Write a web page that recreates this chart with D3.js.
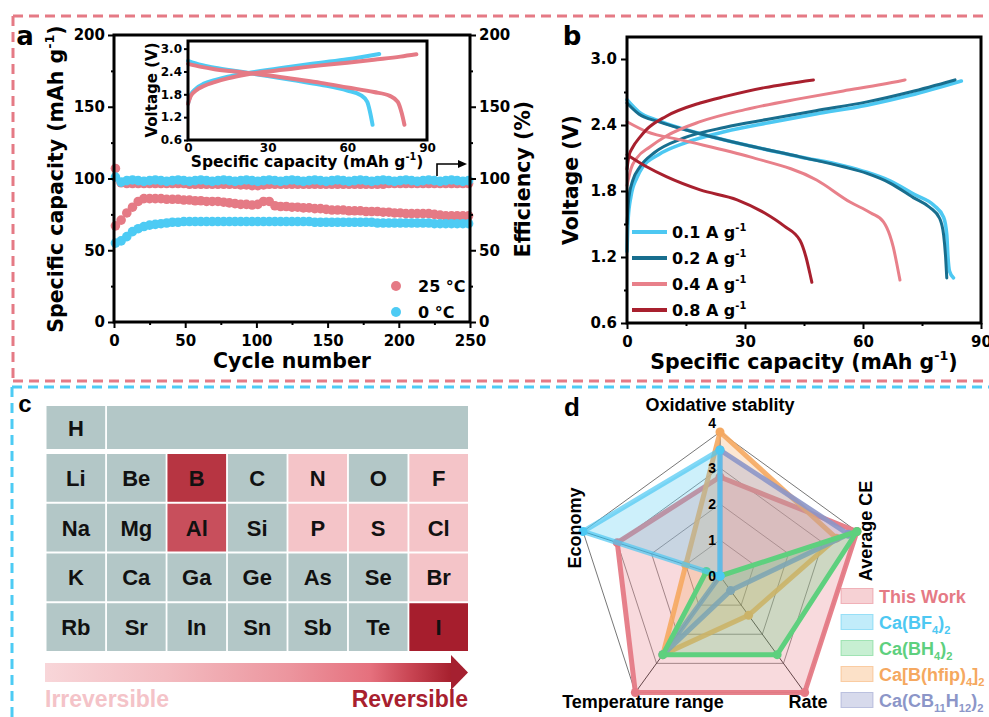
<!DOCTYPE html>
<html><head><meta charset="utf-8">
<script src="https://cdn.jsdelivr.net/npm/d3@7"></script>
<style>
body{margin:0;background:#fff;}
svg{display:block;}
</style></head><body>
<svg id="fig" width="989" height="717"></svg>
<script>
// ================= DATA =================
// Panel a: cycling (sampled every 4 cycles starting at cycle 1)
const cycleIndex = d3.range(1, 251, 4);
const capacity25 = [67,71,76,80,84,86,86,86,86,85.5,
  85.5,85.5,85,85,84.5,84.5,84,84,84,83.5,
  83,82.5,82,82,81.5,82,84,84,81,80.5,
  80.5,80,80,79.5,79.5,79,79,78.5,78,78,
  78,77.5,77.5,77.5,77,77,77,76.5,76.5,76,
  76,75.5,75.5,75.5,75.5,75.5,75,74.5,74,74,
  74,74,74];
const capacity0 = [55,56.5,59.5,63,65,66.5,67.5,68,68.5,69,
  69.5,69.5,70,70,70,70,70,70,70,70,
  70,70,70,70,70,70,70,70,70,70,
  70,70,70,70,70,69.5,69.5,69.5,69.5,69.5,
  69.5,69.5,69.5,69.5,69.5,69.5,69,69,69,69,
  69,69,69,69,69,69,68.5,68.5,68.5,68.5,
  68.5,68.5,68.5];
const efficiency25 = [107,97,96.5,96.5,96.5,96.5,96.5,96.5,96.5,96.5,
  96.5,96.5,96.5,96,96,96,96,96,96,96,
  96,96,95.5,95.5,95,95,95.5,96,96,96,
  96,96,96,96,96,96,96,96,96,96,
  96,96,96,96,96,96,96,96,96.5,96.5,
  96.5,96.5,96.5,96.5,96.5,96.5,96.5,96.5,96.5,96.5,
  96.5,96.5,96.5];
const efficiency0 = [101,97.5,98.5,99,98.5,98,98.5,99,98.5,98,
  98.5,99,98.5,98,98.5,99,98.5,98,98.5,99,
  98.5,98,98.5,99,98.5,98,98.5,99,98.5,98,
  98.5,99,98.5,98,98.5,99,98.5,98,98.5,99,
  98.5,98,98.5,99,98.5,98,98.5,99,98.5,98,
  98.5,99,98.5,98,98.5,99,98.5,98,98.5,99,
  98.5,98,98.5];
const cycleTicks = [0,50,100,150,200,250];
const cycleMinor = [25,75,125,175,225];
const capTicks = [0,50,100,150,200];
const capMinor = [25,75,125,175];
const tempLabels = ["25 °C","0 °C"];

// Panel a inset: [capacity, voltage]
const inset25Charge = [[0,1.55],[1,1.75],[3,1.9],[6,2.02],[10,2.12],[15,2.22],[22,2.32],[30,2.4],[40,2.48],[50,2.56],[60,2.63],[70,2.71],[80,2.79],[86,2.85]];
const inset25Discharge = [[0,2.6],[5,2.52],[10,2.46],[20,2.38],[30,2.3],[40,2.2],[50,2.1],[60,1.98],[70,1.86],[76,1.76],[79,1.6],[80.5,1.3],[81.5,1.0]];
const inset0Charge = [[0,1.55],[1,1.78],[3,1.95],[6,2.08],[10,2.17],[15,2.26],[22,2.35],[30,2.44],[40,2.54],[50,2.63],[60,2.72],[72,2.86]];
const inset0Discharge = [[0,2.68],[5,2.57],[10,2.5],[20,2.39],[30,2.28],[40,2.17],[50,2.05],[60,1.9],[65,1.78],[67.5,1.6],[68.5,1.35],[69.5,1.0]];
const insetXTicks = [0,30,60,90];
const insetYTicks = [0.6,1.2,1.8,2.4,3.0];

// Panel b: rate curves [capacity, voltage]
const rateLabels = ["0.1","0.2","0.4","0.8"];
const rateCharge = [
  [[0,1.25],[0.3,1.55],[1,1.75],[2.5,1.92],[4,2.02],[8,2.13],[15,2.24],[25,2.34],[36,2.42],[48,2.5],[61,2.58],[72,2.67],[85,2.8]],
  [[0,1.5],[0.5,1.75],[1.5,1.9],[3.3,2.02],[7,2.15],[14.3,2.28],[25,2.38],[35.5,2.45],[48,2.53],[61,2.61],[72,2.7],[83.4,2.81]],
  [[0,1.85],[1,2.0],[2.5,2.1],[5.8,2.2],[10,2.3],[18.6,2.43],[30,2.54],[44,2.64],[55,2.71],[65,2.77],[70.7,2.81]],
  [[0,2.0],[0.5,2.12],[1.5,2.2],[3.3,2.29],[5,2.36],[10,2.48],[18.6,2.6],[25,2.66],[35,2.74],[47.4,2.81]]
];
const rateDischarge = [
  [[0,2.63],[3,2.52],[8,2.44],[18.6,2.32],[30,2.22],[44,2.11],[55,2.03],[61,1.97],[67,1.89],[73,1.77],[78,1.67],[80.5,1.56],[81.3,1.4],[81.6,1.2],[82,1.07],[83,1.01]],
  [[0,2.6],[3,2.5],[8,2.43],[18.6,2.32],[30,2.22],[44,2.11],[55,2.02],[61,1.96],[67,1.87],[72.8,1.74],[77,1.65],[79.5,1.55],[80.5,1.4],[81,1.2],[81.3,1.01]],
  [[0,2.43],[5,2.34],[14.3,2.26],[31.3,2.11],[48.2,1.9],[56.7,1.7],[62,1.6],[65.2,1.52],[66.8,1.4],[67.7,1.29],[68.8,1.1],[69.4,0.99]],
  [[0,2.13],[5,2.02],[10,1.93],[18.6,1.81],[28,1.72],[35,1.6],[40,1.48],[44,1.35],[45.5,1.2],[46.5,1.05],[47,0.97]]
];
const bXTicks = [0,30,60,90];
const bXMinor = [15,45,75];
const bYTicks = [0.6,1.2,1.8,2.4,3.0];
const bYMinor = [0.9,1.5,2.1,2.7];

// Panel c: periodic table
const topRow = ["H"];
const elementRows = [
  ["Li","Be","B","C","N","O","F"],
  ["Na","Mg","Al","Si","P","S","Cl"],
  ["K","Ca","Ga","Ge","As","Se","Br"],
  ["Rb","Sr","In","Sn","Sb","Te","I"]
];
const reversibilityLevel = {B:3, Al:2, I:4, N:1, F:1, P:1, S:1, Cl:1, Br:1};

// Panel d: radar
const radarAxes = ["Oxidative stablity","Average CE","Rate","Temperature range","Economy"];
const radarTicks = [0,1,2,3,4];
const radarNames = ["This Work","Ca(BF4)2","Ca(BH4)2","Ca[B(hfip)4]2","Ca(CB11H12)2"];
const thisWork   = [2.75, 4, 4, 4, 3];
const caBF4      = [3.5, 0, 0, 0, 4];
const caBH4      = [0, 4, 2.7, 2.7, 0.4];
const caBhfip    = [4, 3.4, 1.35, 2.7, 1.0];
const caCB11H12  = [3.5, 3.75, 0.5, 2.7, 0];

// ================= STYLE =================
const FA = '"DejaVu Sans", sans-serif';
const FB = '"Liberation Sans", Arial, sans-serif';
const PINK = '#E57A85', SKY = '#4DCBF4';
const rateColors = ['#4DC8F2','#186E8E','#E8808A','#A8202E'];
const levelColors = ['#B3C7C7','#F4C4C8','#C84F5C','#B73542','#A61E2D'];
const radarColors = ['#E57A85','#4DC8F2','#5ED07E','#F5A860','#8C96C8'];
const radarStrokeOpacity = [0.95,0.7,1,0.9,0.9];
const radarLabelParts = [
  [["This Work",0]],
  [["Ca(BF",0],["4",1],[")",0],["2",1]],
  [["Ca(BH",0],["4",1],[")",0],["2",1]],
  [["Ca[B(hfip)",0],["4",1],["]",0],["2",1]],
  [["Ca(CB",0],["11",1],["H",0],["12",1],[")",0],["2",1]]
];

const svg = d3.select("#fig");
svg.append("rect").attr("width",989).attr("height",717).attr("fill","#fff");

function dashed(x1,y1,x2,y2,c){
  svg.append("line").attr("x1",x1).attr("y1",y1).attr("x2",x2).attr("y2",y2)
    .attr("stroke",c).attr("stroke-width",3).attr("stroke-dasharray","10,6");
}
dashed(13,16,989,16,PINK); dashed(13,16,13,381,PINK); dashed(13,381,989,381,PINK);
dashed(12,387,989,387,SKY); dashed(12,387,12,717,SKY);

// rich text helper: parts = [[text, mode]] mode 0 normal, 1 sub, 2 sup
function rich(g, parts, fs){
  let shift = 0;
  parts.forEach(([t,m])=>{
    const target = m===1 ? fs*0.3 : m===2 ? -fs*0.42 : 0;
    g.append("tspan").attr("dy", target-shift).attr("font-size", m? fs*0.62 : fs).text(t);
    shift = target;
  });
}
function label(x,y,parts,fs,opts={}){
  const t = svg.append("text").attr("font-family",opts.font||FA).attr("font-weight","bold")
    .attr("font-size",fs).attr("fill",opts.fill||"#000").attr("text-anchor",opts.anchor||"middle");
  if(opts.rotate) t.attr("transform",`translate(${x},${y}) rotate(${opts.rotate})`);
  else t.attr("x",x).attr("y",y);
  rich(t, parts, fs);
  return t;
}
function styleAxis(g, fs, font){
  g.select(".domain").remove();
  g.selectAll(".tick line").attr("stroke","#000").attr("stroke-width",2);
  g.selectAll(".tick text").attr("font-family",font||FA).attr("font-weight","bold").attr("font-size",fs).attr("fill","#000");
}

// ================= PANEL A =================
const ax = d3.scaleLinear().domain([0,250]).range([114,470]);
const ay = d3.scaleLinear().domain([0,200]).range([322,35]);
const ga = svg.append("g");
function scatter(vals,color){
  ga.append("g").selectAll("circle").data(vals.map((v,i)=>[cycleIndex[i],v])).join("circle")
    .attr("cx",d=>ax(d[0])).attr("cy",d=>ay(d[1])).attr("r",4.8).attr("fill",color);
}
scatter(capacity25,PINK); scatter(capacity0,SKY);
scatter(efficiency25,PINK); scatter(efficiency0,SKY);
styleAxis(ga.append("g").attr("transform","translate(114,0)").call(d3.axisLeft(ay).tickValues(capTicks).tickSize(6).tickPadding(3)),15);
styleAxis(ga.append("g").attr("transform","translate(114,0)").call(d3.axisLeft(ay).tickValues(capMinor).tickSize(3).tickFormat("")),15);
styleAxis(ga.append("g").attr("transform","translate(470,0)").call(d3.axisRight(ay).tickValues(capTicks).tickSize(6).tickPadding(3)),15);
styleAxis(ga.append("g").attr("transform","translate(470,0)").call(d3.axisRight(ay).tickValues(capMinor).tickSize(3).tickFormat("")),15);
styleAxis(ga.append("g").attr("transform","translate(0,322)").call(d3.axisBottom(ax).tickValues(cycleTicks).tickSize(6).tickPadding(7)),15);
styleAxis(ga.append("g").attr("transform","translate(0,322)").call(d3.axisBottom(ax).tickValues(cycleMinor).tickSize(3).tickFormat("")),15);
ga.append("rect").attr("x",114).attr("y",35).attr("width",356).attr("height",287).attr("fill","none").attr("stroke","#000").attr("stroke-width",3);
label(292,368,[["Cycle number",0]],20.5);
label(63,179,[["Specific capacity (mAh g",0],["-1",2],[")",0]],20.5,{rotate:-90});
label(530,179,[["Efficiency (%)",0]],20.5,{rotate:-90});
label(25,45,[["a",0]],26);
tempLabels.forEach((t,i)=>{
  const y = 286 + i*26;
  ga.append("circle").attr("cx",396).attr("cy",y).attr("r",5).attr("fill",i?SKY:PINK);
  label(418,y+6,[[t,0]],16,{anchor:"start"});
});
ga.append("path").attr("d","M437,176 V164 H460").attr("fill","none").attr("stroke","#000").attr("stroke-width",1.6);
ga.append("path").attr("d","M458,160 L467,164 L458,168 Z").attr("fill","#000");

// inset
const ix = d3.scaleLinear().domain([0,90]).range([188,427]);
const iy = d3.scaleLinear().domain([0.6,3.2]).range([140,41]);
const gi = svg.append("g");
const iline = d3.line().x(d=>ix(d[0])).y(d=>iy(d[1])).curve(d3.curveMonotoneX);
[[inset0Charge,SKY],[inset0Discharge,SKY],[inset25Charge,PINK],[inset25Discharge,PINK]].forEach(([d,c])=>{
  gi.append("path").attr("d",iline(d)).attr("fill","none").attr("stroke",c).attr("stroke-width",4).attr("stroke-linecap","round");
});
styleAxis(gi.append("g").attr("transform","translate(188,0)").call(d3.axisLeft(iy).tickValues(insetYTicks).tickSize(4).tickPadding(2).tickFormat(d3.format(".1f"))),12);
styleAxis(gi.append("g").attr("transform","translate(0,140)").call(d3.axisBottom(ix).tickValues(insetXTicks).tickSize(0).tickPadding(3)),12);
gi.append("rect").attr("x",188).attr("y",41).attr("width",239).attr("height",99).attr("fill","none").attr("stroke","#000").attr("stroke-width",3);
label(307,167,[["Specific capacity (mAh g",0],["-1",2],[")",0]],15.5);
label(157,90,[["Voltage (V)",0]],15,{rotate:-90});

// ================= PANEL B =================
const bx = d3.scaleLinear().domain([0,90]).range([627,981]);
const by = d3.scaleLinear().domain([0.6,3.2]).range([323,37]);
const gb = svg.append("g");
const bline = d3.line().x(d=>bx(d[0])).y(d=>by(d[1])).curve(d3.curveMonotoneX);
[0,1,2,3].forEach(i=>{
  [rateCharge[i],rateDischarge[i]].forEach(d=>{
    gb.append("path").attr("d",bline(d)).attr("fill","none").attr("stroke",rateColors[i])
      .attr("stroke-width", i===0?3.6:3).attr("stroke-linecap","round");
  });
});
styleAxis(gb.append("g").attr("transform","translate(627,0)").call(d3.axisLeft(by).tickValues(bYTicks).tickSize(6).tickPadding(4).tickFormat(d3.format(".1f"))),15);
styleAxis(gb.append("g").attr("transform","translate(627,0)").call(d3.axisLeft(by).tickValues(bYMinor).tickSize(3).tickFormat("")),15);
styleAxis(gb.append("g").attr("transform","translate(0,323)").call(d3.axisBottom(bx).tickValues(bXTicks).tickSize(6).tickPadding(7)),15);
styleAxis(gb.append("g").attr("transform","translate(0,323)").call(d3.axisBottom(bx).tickValues(bXMinor).tickSize(3).tickFormat("")),15);
gb.append("rect").attr("x",627).attr("y",37).attr("width",354).attr("height",286).attr("fill","none").attr("stroke","#000").attr("stroke-width",3);
label(804,369,[["Specific capacity (mAh g",0],["-1",2],[")",0]],20.5);
label(578,180,[["Voltage (V)",0]],20.5,{rotate:-90});
label(572,45,[["b",0]],26);
rateLabels.forEach((r,i)=>{
  const y = 232 + i*26;
  gb.append("line").attr("x1",632).attr("x2",667).attr("y1",y).attr("y2",y).attr("stroke",rateColors[i]).attr("stroke-width",4);
  label(672,y+6,[[r+" A g",0],["-1",2]],16,{anchor:"start"});
});

// ================= PANEL C =================
const gc = svg.append("g");
const colX = d3.scaleBand().domain(d3.range(7)).range([46.5,468]).paddingInner(0.03);
const rowY = d3.scaleBand().domain(d3.range(4)).range([454,651]).paddingInner(0.04);
gc.append("rect").attr("x",colX(0)).attr("y",406).attr("width",colX.bandwidth()).attr("height",43).attr("fill",levelColors[0]);
gc.append("rect").attr("x",colX(1)).attr("y",406).attr("width",colX(6)+colX.bandwidth()-colX(1)).attr("height",43).attr("fill",levelColors[0]);
gc.append("text").attr("x",colX(0)+colX.bandwidth()/2).attr("y",406+21.5+8).attr("text-anchor","middle")
  .attr("font-family",FB).attr("font-weight","bold").attr("font-size",22).attr("fill","#111").text(topRow[0]);
elementRows.forEach((row,r)=>row.forEach((el,c)=>{
  const lv = reversibilityLevel[el]||0;
  gc.append("rect").attr("x",colX(c)).attr("y",rowY(r)).attr("width",colX.bandwidth()).attr("height",rowY.bandwidth()).attr("fill",levelColors[lv]);
  gc.append("text").attr("x",colX(c)+colX.bandwidth()/2).attr("y",rowY(r)+rowY.bandwidth()/2+8).attr("text-anchor","middle")
    .attr("font-family",FB).attr("font-weight","bold").attr("font-size",22).attr("fill","#111").text(el);
}));
const defs = svg.append("defs");
const grad = defs.append("linearGradient").attr("id","revGrad").attr("x1","0%").attr("x2","100%");
[[0,'#F8D6D9'],[0.3,'#F3BBC0'],[0.6,'#EC959E'],[0.8,'#E5707D'],[0.9,'#C84452'],[1,'#A51F2D']].forEach(([o,c])=>grad.append("stop").attr("offset",o).attr("stop-color",c));
gc.append("rect").attr("x",45).attr("y",663).attr("width",407).attr("height",19).attr("fill","url(#revGrad)");
gc.append("path").attr("d","M451,655 L468,672.5 L451,690 Z").attr("fill","#A52030");
gc.append("text").attr("x",45).attr("y",707).attr("font-family",FB).attr("font-weight","bold").attr("font-size",23).attr("fill","#F4C3C8").text("Irreversible");
gc.append("text").attr("x",468).attr("y",707).attr("text-anchor","end").attr("font-family",FB).attr("font-weight","bold").attr("font-size",23).attr("fill","#A8202E").text("Reversible");
label(25,412,[["c",0]],24,{font:FB});

// ================= PANEL D =================
const gd = svg.append("g");
const rc = {x:720,y:576};
const rr = d3.scaleLinear().domain([0,4]).range([0,144]);
const pt = (i,v)=>[rc.x+rr(v)*Math.sin(i*2*Math.PI/5), rc.y-rr(v)*Math.cos(i*2*Math.PI/5)];
radarTicks.slice(1).forEach(t=>{
  gd.append("path").attr("d",d3.line()(d3.range(5).map(i=>pt(i,t)))+"Z").attr("fill","none")
    .attr("stroke", t===4?"#777":"#8a8a8a").attr("stroke-width",1);
});
d3.range(5).forEach(i=>{
  const p = pt(i,4);
  gd.append("line").attr("x1",rc.x).attr("y1",rc.y).attr("x2",p[0]).attr("y2",p[1]).attr("stroke","#333").attr("stroke-width",1);
});
const radarData = [thisWork,caBF4,caBH4,caBhfip,caCB11H12];
const drawOrder = [0,3,4,2,1];
drawOrder.forEach(k=>{
  const pts = radarData[k].map((v,i)=>pt(i,v));
  gd.append("path").attr("d",d3.line()(pts)+"Z").attr("fill",radarColors[k]).attr("fill-opacity",0.28)
    .attr("stroke",radarColors[k]).attr("stroke-opacity",radarStrokeOpacity[k]).attr("stroke-width",5).attr("stroke-linejoin","round");
  gd.append("g").selectAll("circle").data(pts).join("circle").attr("cx",d=>d[0]).attr("cy",d=>d[1]).attr("r",4.5).attr("fill",radarColors[k]);
});
radarTicks.forEach(t=>{
  gd.append("text").attr("x",716).attr("y", t===4 ? rc.y-rr(t)-4 : rc.y-rr(t)+5).attr("text-anchor","end")
    .attr("font-family",FB).attr("font-weight","bold").attr("font-size",14).text(t);
});
label(720,411,[[radarAxes[0],0]],18,{font:FB});
label(872,531,[[radarAxes[1],0]],18,{font:FB,rotate:-90});
label(808,708,[[radarAxes[2],0]],18,{font:FB});
label(643,708,[[radarAxes[3],0]],18,{font:FB});
label(581,528,[[radarAxes[4],0]],18,{font:FB,rotate:-90});
label(572,416,[["d",0]],26,{font:FB});
radarNames.forEach((n,k)=>{
  const y = 596 + k*26;
  gd.append("rect").attr("x",841).attr("y",y-7.5).attr("width",32).attr("height",15)
    .attr("fill",radarColors[k]).attr("fill-opacity",0.35).attr("stroke",radarColors[k]).attr("stroke-opacity",0.5);
  label(879,y+6.5,radarLabelParts[k],18,{font:FB,anchor:"start",fill:radarColors[k]});
});
</script>
</body></html>
